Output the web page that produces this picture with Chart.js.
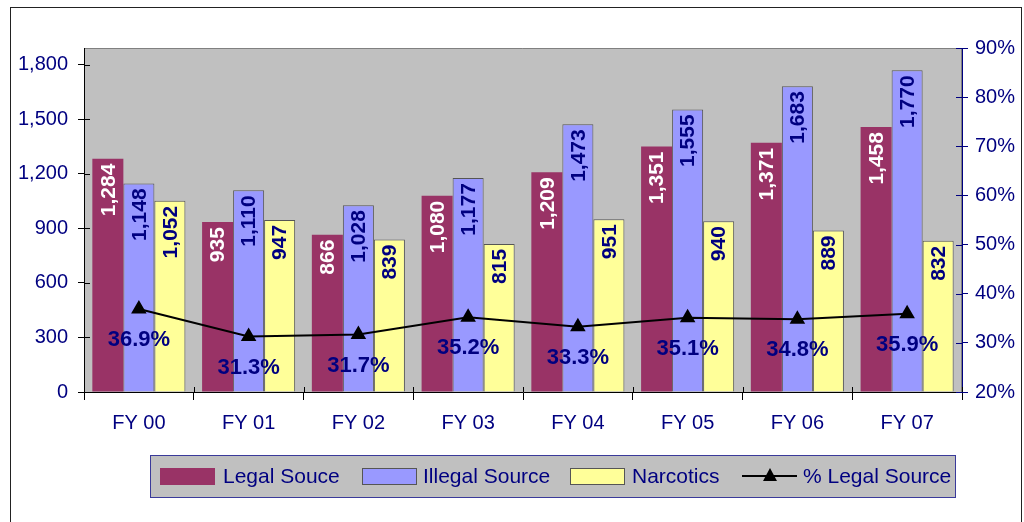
<!DOCTYPE html>
<html><head><meta charset="utf-8">
<script src="https://cdn.jsdelivr.net/npm/chart.js@4/dist/chart.umd.min.js"></script>
<style>html,body{margin:0;padding:0;background:#fff}#wrap{width:1024px;height:522px}</style>
</head><body><div id="wrap"><canvas id="c" width="1024" height="522"></canvas></div>
<script>
const categories = ['FY 00','FY 01','FY 02','FY 03','FY 04','FY 05','FY 06','FY 07'];
const legalSource = [1284, 935, 866, 1080, 1209, 1351, 1371, 1458];
const illegalSource = [1148, 1110, 1028, 1177, 1473, 1555, 1683, 1770];
const narcotics = [1052, 947, 839, 815, 951, 940, 889, 832];
const pctLegal = [36.9, 31.3, 31.7, 35.2, 33.3, 35.1, 34.8, 35.9];
const leftTicks = [0, 300, 600, 900, 1200, 1500, 1800];
const rightTicks = [20, 30, 40, 50, 60, 70, 80, 90];

const FONT = "'Liberation Sans', Arial, sans-serif";
const NAVY = '#000080';
const PLOT = {left: 84, right: 962, top: 48, bottom: 392};

const framePlugin = {
  id: 'frame',
  beforeDraw(chart) {
    const ctx = chart.ctx, a = chart.chartArea;
    ctx.save();
    ctx.fillStyle = '#fff';
    ctx.fillRect(0, 0, chart.width, chart.height);
    ctx.strokeStyle = '#222';
    ctx.lineWidth = 1;
    ctx.strokeRect(10.5, 7.5, 1011, 520);
    ctx.fillStyle = '#C0C0C0';
    ctx.fillRect(a.left, a.top, a.right - a.left, a.bottom - a.top);
    ctx.strokeStyle = '#808080';
    ctx.beginPath();
    ctx.moveTo(a.left, a.top + 0.5); ctx.lineTo(a.right - 0.5, a.top + 0.5); ctx.lineTo(a.right - 0.5, a.bottom);
    ctx.stroke();
    ctx.restore();
  },
  afterDraw(chart) {
    const ctx = chart.ctx;
    ctx.save();
    const y = chart.scales.y, y1 = chart.scales.y1, a = chart.chartArea;
    ctx.lineWidth = 1;
    ctx.strokeStyle = '#000';
    y.ticks.forEach(t => { const py = Math.round(y.getPixelForValue(t.value)) + 0.5; ctx.beginPath(); ctx.moveTo(a.left, py); ctx.lineTo(a.left + 6, py); ctx.stroke(); });
    ctx.strokeStyle = NAVY;
    y1.ticks.forEach(t => { const py = Math.round(y1.getPixelForValue(t.value)) + 0.5; ctx.beginPath(); ctx.moveTo(a.right, py); ctx.lineTo(a.right - 6, py); ctx.stroke(); });
    ctx.strokeStyle = '#000';
    for (let i = 0; i <= categories.length; i++) {
      const px = Math.round(a.left + (a.right - a.left) * i / categories.length) + 0.5;
      ctx.beginPath(); ctx.moveTo(px, a.bottom); ctx.lineTo(px, a.bottom - 5); ctx.stroke();
    }
    // legend
    const L = {x: 150, y: 455, w: 805, h: 42};
    ctx.fillStyle = '#C0C0C0';
    ctx.fillRect(L.x, L.y, L.w, L.h);
    ctx.strokeStyle = '#3a3a9a';
    ctx.strokeRect(L.x + 0.5, L.y + 0.5, L.w, L.h);
    const cy = L.y + L.h / 2;
    const items = [
      {label: 'Legal Souce', sx: 160, tx: 223, color: '#993366', border: null},
      {label: 'Illegal Source', sx: 362, tx: 423, color: '#9999FF', border: '#555'},
      {label: 'Narcotics', sx: 570, tx: 632, color: '#FFFF99', border: '#555'},
    ];
    ctx.font = '21px ' + FONT;
    ctx.textBaseline = 'middle';
    ctx.textAlign = 'left';
    items.forEach(it => {
      ctx.fillStyle = it.color;
      ctx.fillRect(it.sx, cy - 8, 55, 17);
      if (it.border) { ctx.strokeStyle = it.border; ctx.strokeRect(it.sx + 0.5, cy - 7.5, 54, 16); }
      ctx.fillStyle = NAVY;
      ctx.fillText(it.label, it.tx, cy + 1);
    });
    ctx.strokeStyle = '#000'; ctx.lineWidth = 2;
    ctx.beginPath(); ctx.moveTo(742, cy); ctx.lineTo(797, cy); ctx.stroke();
    ctx.fillStyle = '#000';
    ctx.beginPath(); ctx.moveTo(770, cy - 8); ctx.lineTo(777, cy + 5); ctx.lineTo(763, cy + 5); ctx.closePath(); ctx.fill();
    ctx.fillStyle = NAVY;
    ctx.fillText('% Legal Source', 803, cy + 1);
    ctx.restore();
  }
};

const labelPlugin = {
  id: 'labels',
  afterDatasetsDraw(chart) {
    const ctx = chart.ctx;
    ctx.save();
    ctx.font = 'bold 21px ' + FONT;
    [0, 1, 2].forEach(di => {
      const meta = chart.getDatasetMeta(di);
      const vals = chart.data.datasets[di].data;
      meta.data.forEach((bar, j) => {
        ctx.save();
        ctx.translate(bar.x, bar.y + 5);
        ctx.rotate(-Math.PI / 2);
        ctx.textAlign = 'right';
        ctx.textBaseline = 'middle';
        ctx.fillStyle = di === 0 ? '#fff' : NAVY;
        ctx.fillText(vals[j].toLocaleString('en-US'), 0, 1);
        ctx.restore();
      });
    });
    const lm = chart.getDatasetMeta(3);
    ctx.font = 'bold 22px ' + FONT;
    ctx.fillStyle = NAVY;
    ctx.textAlign = 'center';
    ctx.textBaseline = 'middle';
    lm.data.forEach((pt, j) => {
      ctx.fillText(pctLegal[j].toFixed(1) + '%', pt.x, pt.y + 31);
    });
    ctx.restore();
  }
};

new Chart(document.getElementById('c'), {
  data: {
    labels: categories,
    datasets: [
      {type: 'bar', label: 'Legal Souce', data: legalSource, backgroundColor: '#993366', borderWidth: 0, yAxisID: 'y', order: 2},
      {type: 'bar', label: 'Illegal Source', data: illegalSource, backgroundColor: '#9999FF', borderColor: '#555', borderWidth: 1, yAxisID: 'y', order: 2},
      {type: 'bar', label: 'Narcotics', data: narcotics, backgroundColor: '#FFFF99', borderColor: '#555', borderWidth: 1, yAxisID: 'y', order: 2},
      {type: 'line', label: '% Legal Source', data: pctLegal, borderColor: '#000', borderWidth: 2, pointStyle: 'triangle', pointRadius: 7, pointBackgroundColor: '#000', pointBorderColor: '#000', yAxisID: 'y1', order: 0, tension: 0}
    ]
  },
  options: {
    responsive: false,
    animation: false,
    devicePixelRatio: 1,
    layout: {padding: {left: 0, right: 0, top: PLOT.top, bottom: 0}},
    plugins: {legend: {display: false}, tooltip: {enabled: false}},
    datasets: {bar: {categoryPercentage: 0.848, barPercentage: 1}},
    scales: {
      x: {
        grid: {display: true, drawOnChartArea: false, offset: true, tickLength: 8, color: '#000'},
        border: {color: '#000', width: 1},
        ticks: {color: NAVY, font: {family: FONT, size: 20}, padding: 11},
        afterFit(s) { s.height = 522 - PLOT.bottom; }
      },
      y: {
        position: 'left', min: 0, max: 1893,
        grid: {drawOnChartArea: false, tickLength: 6, color: '#000'},
        border: {color: '#000', width: 1},
        ticks: {color: NAVY, font: {family: FONT, size: 20}, padding: 10, callback: v => v.toLocaleString('en-US')},
        afterBuildTicks(s) { s.ticks = leftTicks.map(v => ({value: v})); },
        afterFit(s) { s.width = PLOT.left; }
      },
      y1: {
        position: 'right', min: 20, max: 90,
        grid: {drawOnChartArea: false, tickLength: 6, color: NAVY},
        border: {color: NAVY, width: 1},
        ticks: {color: NAVY, font: {family: FONT, size: 20}, padding: 7, callback: v => v + '%'},
        afterBuildTicks(s) { s.ticks = rightTicks.map(v => ({value: v})); },
        afterFit(s) { s.width = 1024 - PLOT.right; }
      }
    }
  },
  plugins: [framePlugin, labelPlugin]
});
</script></body></html>
